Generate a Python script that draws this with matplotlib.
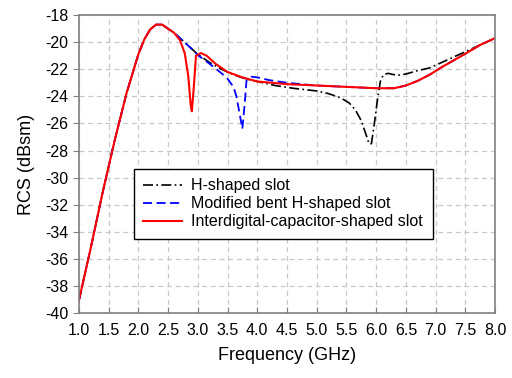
import matplotlib
matplotlib.use("Agg")
import matplotlib.pyplot as plt

plt.rcParams['font.family'] = ['Liberation Sans', 'DejaVu Sans']

rise_f = [1.0, 1.2, 1.4, 1.6, 1.8, 2.0, 2.1, 2.2, 2.3, 2.4]
rise_v = [-39.1, -35.2, -31.1, -27.3, -23.8, -20.9, -19.8, -19.05, -18.7, -18.7]

h_f = rise_f + [2.5, 2.6, 2.7, 2.8, 2.9, 3.0, 3.2, 3.4, 3.6, 3.8, 4.0, 4.3, 4.6, 5.0, 5.2, 5.4,
                5.55, 5.65, 5.75, 5.82, 5.88, 5.92, 5.97, 6.02, 6.07, 6.12, 6.2, 6.35, 6.5,
                6.7, 6.9, 7.1, 7.3, 7.5, 7.7, 7.85, 8.0]
h_v = rise_v + [-19.0, -19.3, -19.7, -20.1, -20.5, -20.9, -21.5, -22.0, -22.4, -22.7, -22.9,
                -23.2, -23.4, -23.6, -23.8, -24.1, -24.5, -25.0, -25.8, -26.7, -27.5, -27.5,
                -26.0, -24.3, -22.9, -22.4, -22.3, -22.45, -22.35, -22.1, -21.9, -21.5,
                -21.1, -20.7, -20.3, -20.0, -19.7]

mb_f = rise_f + [2.5, 2.6, 2.7, 2.8, 2.9, 3.0, 3.2, 3.4, 3.5, 3.6, 3.65, 3.7, 3.75, 3.79, 3.82,
                 3.9, 4.0, 4.2, 4.5, 5.0, 5.5, 6.0, 6.3, 6.5, 6.7, 6.9, 7.1, 7.3, 7.5, 7.75, 8.0]
mb_v = rise_v + [-19.0, -19.3, -19.7, -20.1, -20.5, -20.95, -21.6, -22.3, -22.7, -23.3, -24.0,
                 -25.2, -26.4, -24.5, -22.8, -22.55, -22.6, -22.8, -23.0, -23.2, -23.3, -23.4,
                 -23.4, -23.2, -22.85, -22.4, -21.85, -21.35, -20.85, -20.2, -19.7]

ic_f = rise_f + [2.5, 2.6, 2.7, 2.78, 2.84, 2.88, 2.9, 2.93, 2.97, 3.05, 3.15, 3.3, 3.5, 3.75,
                 4.0, 4.5, 5.0, 5.5, 6.0, 6.3, 6.5, 6.7, 6.9, 7.1, 7.3, 7.5, 7.75, 8.0]
ic_v = rise_v + [-19.0, -19.3, -19.85, -20.8, -22.5, -24.6, -25.1, -23.5, -21.0, -20.8, -21.0,
                 -21.6, -22.2, -22.6, -22.9, -23.1, -23.2, -23.3, -23.4, -23.4, -23.2, -22.85,
                 -22.4, -21.85, -21.35, -20.85, -20.2, -19.7]

labels = ["H-shaped slot", "Modified bent H-shaped slot", "Interdigital-capacitor-shaped slot"]
x_ticks = [1.0 + 0.5 * i for i in range(15)]
y_ticks = list(range(-40, -17, 2))

fig = plt.figure(figsize=(5.12, 3.78), dpi=100)
ax = fig.add_axes([0.154, 0.172, 0.813, 0.788])

ax.plot(h_f, h_v, color='black', linestyle=(0, (6, 2, 1, 2)), linewidth=1.2, label=labels[0])
ax.plot(mb_f, mb_v, color='#0000ff', linestyle=(0, (5, 2.5)), linewidth=1.3, label=labels[1])
ax.plot(ic_f, ic_v, color='#ff0000', linestyle='-', linewidth=1.5, label=labels[2])

ax.set_xlim(1.0, 8.0)
ax.set_ylim(-40, -18)
ax.set_xticks(x_ticks)
ax.set_xticklabels([f"{t:.1f}" for t in x_ticks])
ax.set_yticks(y_ticks)
ax.set_yticklabels([str(t) for t in y_ticks])
ax.grid(True, color='#c8c8c8', linestyle=(0, (4, 3)), linewidth=0.9)
ax.set_axisbelow(True)
ax.tick_params(axis='x', direction='in', length=4, color='#808080', labelsize=11.5, pad=7)
ax.tick_params(axis='y', direction='out', length=4, color='#808080', labelsize=11.5)
for s in ax.spines.values():
    s.set_color('#808080')
    s.set_linewidth(1.2)

ax.set_xlabel("Frequency (GHz)", fontsize=13, labelpad=7)
ax.set_ylabel("RCS (dBsm)", fontsize=13, labelpad=7)

leg = ax.legend(loc='upper left', bbox_to_anchor=(0.132, 0.485), fontsize=11.5,
                frameon=True, fancybox=False, edgecolor='black', framealpha=1,
                handlelength=2.4, handletextpad=0.6, borderpad=0.6, labelspacing=0.2,
                borderaxespad=0)
leg.get_frame().set_linewidth(1.0)

fig.savefig("out.png", dpi=100)
